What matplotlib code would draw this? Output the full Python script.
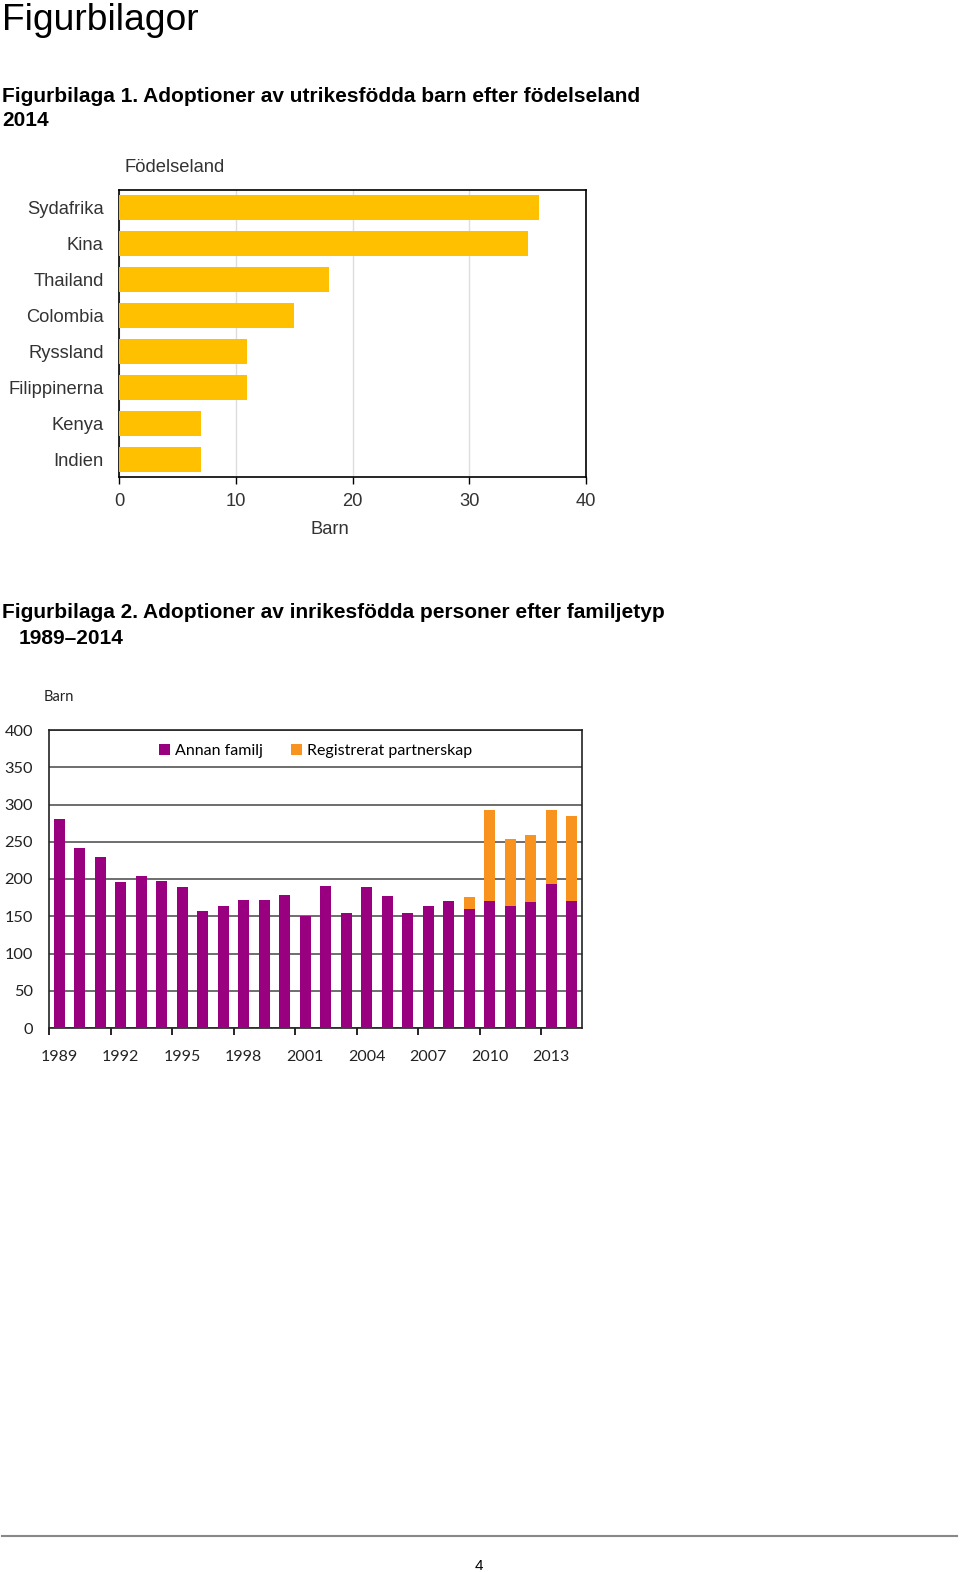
import numpy as np
import matplotlib
matplotlib.use('Agg')
import matplotlib.pyplot as plt
from matplotlib.lines import Line2D

# Figurbilaga 1: adoptioner av utrikesfödda barn efter födelseland 2014
countries = ['Sydafrika', 'Kina', 'Thailand', 'Colombia', 'Ryssland',
             'Filippinerna', 'Kenya', 'Indien']
children = [36, 35, 18, 15, 11, 11, 7, 7]

# Figurbilaga 2: adoptioner av inrikesfödda personer efter familjetyp
years = list(range(1989, 2015))
annan_familj = [280, 242, 229, 196, 204, 197, 189, 157, 164, 172, 172, 179, 150,
                190, 154, 189, 177, 154, 164, 170, 160, 170, 164, 169, 193, 170]
reg_partnerskap = [0, 0, 0, 0, 0, 0, 0, 0, 0, 0, 0, 0, 0,
                   0, 0, 0, 0, 0, 0, 0, 16, 123, 90, 90, 99, 114]

W, H = 960, 1572
fig = plt.figure(figsize=(W / 100, H / 100), dpi=100)
plt.rcParams['font.family'] = ['Liberation Sans', 'DejaVu Sans']

def fx(px):
    return px / W

def fy(py):
    return 1 - py / H

# page headings
fig.text(fx(2), fy(20), 'Figurbilagor', fontsize=26.8, va='center', ha='left')
fig.text(fx(2), fy(96), 'Figurbilaga 1. Adoptioner av utrikesfödda barn efter födelseland',
         fontsize=15, fontweight='bold', va='center', ha='left')
fig.text(fx(2), fy(121), '2014', fontsize=15, fontweight='bold', va='center', ha='left')
fig.text(fx(2), fy(613), 'Figurbilaga 2. Adoptioner av inrikesfödda personer efter familjetyp',
         fontsize=15, fontweight='bold', va='center', ha='left')
fig.text(fx(19), fy(638), '1989–2014', fontsize=15, fontweight='bold', va='center', ha='left')

# ---- chart 1 ----
txt1 = '#333333'
fs1 = 13.2
ax1 = fig.add_axes([fx(119), fy(477), fx(586 - 119), (477 - 190) / H])
ypos = np.arange(len(countries))
ax1.barh(ypos, children, height=0.7, color='#FFC000', zorder=3)
ax1.set_ylim(len(countries) - 0.5, -0.5)
ax1.set_xlim(0, 40)
ax1.set_xticks([0, 10, 20, 30, 40])
ax1.set_yticks(ypos)
ax1.set_yticklabels(countries)
ax1.tick_params(axis='y', length=0, pad=11, labelsize=fs1, labelcolor=txt1)
ax1.tick_params(axis='x', length=5, width=1, pad=6.5, labelsize=fs1, labelcolor=txt1)
ax1.grid(axis='x', color='#dddddd', linewidth=1, zorder=0)
for s in ax1.spines.values():
    s.set_color('black')
    s.set_linewidth(1.2)
ax1.set_xlabel('Barn', fontsize=fs1, color=txt1)
ax1.xaxis.set_label_coords((330 - 119) / 467, -0.155)
fig.text(fx(124), fy(168), 'Födelseland', fontsize=fs1, color=txt1, va='center', ha='left')

# ---- chart 2 ----
fam = ['Lato', 'DejaVu Sans']
ax2 = fig.add_axes([fx(49), fy(1028), fx(582 - 49), (1028 - 730) / H])
x = np.arange(len(years))
ax2.bar(x, annan_familj, width=0.54, color='#99007F', label='Annan familj', zorder=3)
ax2.bar(x, reg_partnerskap, width=0.54, bottom=annan_familj, color='#F7931E',
        label='Registrerat partnerskap', zorder=3)
ax2.set_xlim(-0.5, len(years) - 0.5)
ax2.set_ylim(0, 400)
ax2.set_yticks(range(0, 401, 50))
ax2.set_xticks(x[::3])
ax2.set_xticklabels([str(y) for y in years[::3]], family=fam)
ax2.set_xticks(np.arange(-0.5, len(years), 3), minor=True)
for lab in ax2.get_yticklabels():
    lab.set_family(fam)
ax2.tick_params(axis='x', which='major', length=0, pad=15.5, labelsize=11.5, labelcolor='#222222')
ax2.tick_params(axis='x', which='minor', length=5, width=1.2, direction='out')
ax2.tick_params(axis='y', length=0, pad=11.5, labelsize=11.8, labelcolor='#222222')
ax2.grid(axis='y', color='#555555', linewidth=1.2, zorder=0)
for s in ax2.spines.values():
    s.set_color('#222222')
    s.set_linewidth(1.2)
ax2.legend(loc='center', bbox_to_anchor=(0.50, 0.930), ncol=2, frameon=False,
           handlelength=0.7, handleheight=0.7, handletextpad=0.3, columnspacing=1.8,
           prop={'family': fam, 'size': 11.5})
fig.text(fx(44), fy(697), 'Barn', fontsize=10.5, family=fam, color='#222222', va='center', ha='left')

# page footer
fig.add_artist(Line2D([fx(2), fx(957)], [fy(1536), fy(1536)], color='#888888', linewidth=1.5))
fig.text(fx(479), fy(1566), '4', fontsize=11, va='center', ha='center')

fig.savefig('out.png', dpi=100)
